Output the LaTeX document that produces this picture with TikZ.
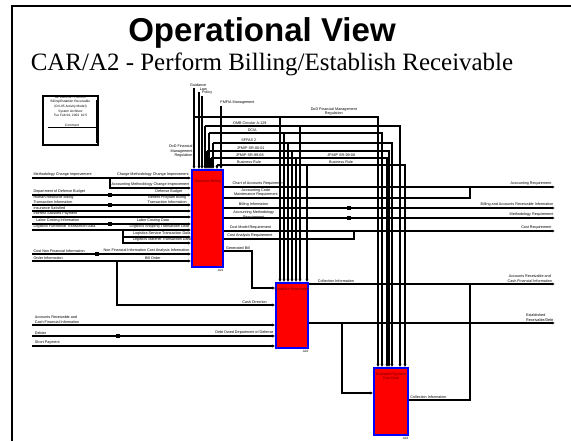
\documentclass[tikz,border=0pt]{standalone}
\usepackage{fontspec}
\setmainfont{Liberation Sans}
\newfontfamily\timesface{Liberation Serif}
\usepackage{xcolor}
\usepackage{tikz}
\usetikzlibrary{arrows.meta, positioning, calc}
\definecolor{boxtext}{RGB}{110,0,0}

\begin{document}
\begin{tikzpicture}[
  x=0.05cm, y=-0.05cm,
  actbox/.style={draw=blue, fill=red, line width=2.6pt, inner sep=0pt},
  boxtitle/.style={font=\fontsize{5.3}{6}\selectfont, text=boxtext, align=center, inner sep=0.5pt},
  boxid/.style={font=\fontsize{4.5}{5}\selectfont, inner sep=0.5pt},
  lbl/.style={font=\fontsize{5.3}{6.5}\selectfont, inner sep=0.8pt},
  wire/.style={line width=2.9pt},
  flow/.style={wire, -{Latex[length=4.6pt,width=4.6pt]}}
]
\useasboundingbox (0,0) rectangle (571,441);
\draw[line width=2.8pt] (12,441) -- (12,6) -- (571,6);

\node[font=\bfseries\fontsize{47}{50}\selectfont, anchor=base] (title) at (262,42) {Operational View};
\node[font=\timesface\fontsize{35.5}{38}\selectfont, anchor=base] (subtitle) at (272,71) {CAR/A2 - Perform Billing/Establish Receivable};

% node box
\node[draw, line width=3.8pt, minimum width=2.75cm, minimum height=2.45cm] (infobox) at (70.5,120.5) {};
\node[font=\fontsize{4.6}{6.1}\selectfont, align=center, inner sep=0pt, below=2pt of infobox.north] (infotext) {A2 CAR/A2 - Perform\\Billing/Establish Receivable\\(OV-05 Activity Model)\\[1pt]System Architect\\Tue Feb 04, 2003 \ 10:5};
\draw[line width=1.6pt] ($(infobox.north east)+(-3,5)$) -- ($(infobox.south east)+(-3,-3)$);
\draw[line width=1.6pt] ($(infobox.west)+(6,7)$) -- node[above, font=\fontsize{4.6}{5}\selectfont, inner sep=0.5pt] {Comment} ($(infobox.east)+(-3,7)$);

% activities
\node[actbox, minimum width=1.55cm, minimum height=4.85cm] (a21) at (207.5,218.5) {};
\node[actbox, minimum width=1.6cm, minimum height=3.25cm] (a22) at (292,315.5) {};
\node[actbox, minimum width=1.7cm, minimum height=3.35cm] (a23) at (391,401.5) {};
\node[boxtitle, below=15pt of a21.north] (a21name) {Generate Billing};
\node[boxtitle, below=8pt of a22.north] (a22name) {Establish Receivable};
\node[boxtitle, below=7pt of a23.north] (a23name) {Evaluate Payment\\Due Date};
\node[boxid, anchor=north east] (a21id) at ([yshift=-1.5pt]a21.south east) {A21};
\node[boxid, anchor=north east] (a22id) at ([yshift=-1.5pt]a22.south east) {A22};
\node[boxid, anchor=north east] (a23id) at ([yshift=-1.5pt]a23.south east) {A23};

% free ends and branch points
\coordinate (i1) at (32,178); \coordinate (i2) at (32,195); \coordinate (i3) at (32,205);
\coordinate (i4) at (32,211); \coordinate (i5) at (32,217); \coordinate (i6) at (32,224);
\coordinate (i7) at (32,230); \coordinate (i8) at (32,254); \coordinate (i9) at (32,261);
\coordinate (j1) at (32,325); \coordinate (j2) at (32,336); \coordinate (j3) at (32,346);
\coordinate (o1) at (555,187); \coordinate (o2) at (555,208); \coordinate (o3) at (555,218);
\coordinate (o4) at (555,231); \coordinate (o5) at (555,284); \coordinate (o6) at (555,323);
\coordinate (b1) at (110,178); \coordinate (b2) at (123,230); \coordinate (b3) at (117,261);
\coordinate (m1) at (470,198); \coordinate (m2) at (354,239); \coordinate (m3) at (252,251);
\coordinate (m4) at (342,323); \coordinate (m5) at (470,400);
\coordinate (guid) at (194,88); \coordinate (law) at (199,92); \coordinate (pol) at (202,96); \coordinate (fmfia) at (221,106);
\coordinate (c1l) at (194,117); \coordinate (c1m) at (280,117); \coordinate (c1r) at (378,117);
\coordinate (c2l) at (205,126); \coordinate (c2m) at (300,126); \coordinate (c2r) at (400,126);
\coordinate (c3l) at (209,133); \coordinate (c3m) at (284,133); \coordinate (c3r) at (382,133);
\coordinate (c4l) at (213,143); \coordinate (c4m) at (288,143); \coordinate (c4r) at (392,143);
\coordinate (c5l) at (207,151); \coordinate (c5m) at (292,151); \coordinate (c5r) at (389,151);
\coordinate (c6l) at (211,158); \coordinate (c6m) at (296,158); \coordinate (c6r) at (387,158);
\coordinate (c7l) at (217,165); \coordinate (c7m) at (307,165); \coordinate (c7r) at (405,165);

% controls
\draw[flow] (guid) node[lbl, above, xshift=6pt] {Guidance} -- node[pos=0.78, lbl, left, align=right] {DoD Financial\\Management\\Regulation} (guid |- a21.north);
\draw[flow] (law) node[lbl, above right, xshift=-1pt] {Law} -- (law |- a21.north);
\draw[flow] (pol) node[lbl, above right, xshift=-2pt] {Policy} -- (pol |- a21.north);
\draw[flow] (fmfia) node[lbl, above right, xshift=-3pt] {FMFIA Management} -- (fmfia |- a21.north);
\draw[flow] (c1l) -- node[pos=0.76, lbl, above, align=center] {DoD Financial Management\\Regulation} (c1r) -- (c1r |- a23.north);
\draw[flow] (c1m) -- (c1m |- a22.north);
\draw[flow] (c2l) -- (c2l |- a21.north);
\draw[flow] (c2l) -- node[pos=0.23, lbl, above] {OMB Circular A-129} (c2r) -- (c2r |- a23.north);
\draw[flow] (c2m) -- (c2m |- a22.north);
\draw[flow] (c3l) -- (c3l |- a21.north);
\draw[flow] (c3l) -- node[pos=0.25, lbl, above] {DCIA} (c3r) -- (c3r |- a23.north);
\draw[flow] (c3m) -- (c3m |- a22.north);
\draw[flow] (c4l) -- (c4l |- a21.north);
\draw[flow] (c4l) -- node[pos=0.2, lbl, above] {SFFAS 2} (c4r) -- (c4r |- a23.north);
\draw[flow] (c4m) -- (c4m |- a22.north);
\draw[flow] (c5l) -- (c5l |- a21.north);
\draw[flow] (c5l) -- node[pos=0.24, lbl, above] {JFMIP SR-00-01} (c5r) -- (c5r |- a23.north);
\draw[flow] (c5m) -- (c5m |- a22.north);
\draw[flow] (c6l) -- (c6l |- a21.north);
\draw[flow] (c6l) -- node[pos=0.22, lbl, above] {JFMIP SR-99-08} node[pos=0.74, lbl, above] {JFMIP SR-99-08} (c6r) -- (c6r |- a23.north);
\draw[flow] (c6m) -- (c6m |- a22.north);
\draw[flow] (c7l) -- (c7l |- a21.north);
\draw[flow] (c7l) -- node[pos=0.17, lbl, above] {Business Rule} node[pos=0.66, lbl, above] {Business Rule} (c7r) -- (c7r |- a23.north);
\draw[flow] (c7m) -- (c7m |- a22.north);

% inputs of A21
\draw[flow] (i1) -- node[pos=0, lbl, above right] {Methodology Change Improvement} node[pos=0.76, lbl, above] {Charge Methodology Change Improvement} (a21.west |- i1);
\draw[flow] (b1) -- ++(0,10) coordinate (b1d) -- node[lbl, above] {Accounting Methodology Change Improvement} (a21.west |- b1d);
\draw[flow] (i2) -- node[pos=0, lbl, above right] {Department of Defense Budget} node[pos=0.86, lbl, above] {Defense Budget} (a21.west |- i2);
\draw[flow] (i3) -- node[pos=0, lbl, above right, align=left] {Human Resource Billing\\Transaction Information} node[pos=0.85, lbl, above, align=center] {Benefit Program Billing\\Transaction Information} (a21.west |- i3);
\draw[flow] (i4) -- node[pos=0, lbl, above right] {Insurance Satisfied} (a21.west |- i4);
\draw[flow] (i5) -- node[pos=0, lbl, above right] {Interest Satisfied Payment} (a21.west |- i5);
\draw[flow] (i6) -- node[pos=0, lbl, above right, xshift=4pt] {Labor Costing Information} node[pos=0.76, lbl, above] {Labor Costing Data} (a21.west |- i6);
\draw[flow] (i7) -- node[pos=0, lbl, above right] {Logistics Functional Transaction Data} node[pos=0.8, lbl, above] {Logistics Shipping Transaction Data} (a21.west |- i7);
\draw[flow] (b2) -- ++(0,7) coordinate (b2a) -- node[pos=0.57, lbl, above] {Logistics Service Transaction Data} (a21.west |- b2a);
\draw[flow] (b2a) -- ++(0,6) coordinate (b2b) -- node[pos=0.57, lbl, above] {Logistics Materiel Transaction Data} (a21.west |- b2b);
\draw[flow] (i8) -- node[pos=0, lbl, above right] {Cost Non Financial Information} node[pos=0.72, lbl, above] {Non Financial Information Cost Analysis Information} (a21.west |- i8);
\draw[flow] (i9) -- node[pos=0, lbl, above right] {Order Information} node[pos=0.76, lbl, above] {Bill Order} (a21.west |- i9);
\draw[flow] (b3) -- ++(0,44) coordinate (b3d) -- node[pos=0.87, lbl, above] {Cash Direction} (a22.west |- b3d);
\fill (108,193) rectangle (112,197);
\fill (108,203) rectangle (112,207);
\fill (108,222) rectangle (112,226);
\fill (95,252) rectangle (99,256);

% inputs of A22
\draw[flow] (j1) -- node[pos=0, lbl, above right, align=left, xshift=2pt] {Accounts Receivable and\\Cash Financial Information} (a22.west |- j1);
\draw[flow] (j2) -- node[pos=0, lbl, above right, xshift=2pt] {Debtor} node[pos=1, lbl, above left] {Debt Owed Department of Defense} (a22.west |- j2);
\draw[flow] (j3) -- node[pos=0, lbl, above right, xshift=2pt] {Short Payment} (a22.west |- j3);
\fill (116,334) rectangle (120,338);

% outputs of A21
\draw[flow] (a21.east |- o1) -- node[pos=0.105, lbl, above] {Chart of Accounts Requirement} node[pos=1, lbl, above left, xshift=-3pt] {Accounting Requirement} (o1);
\draw[wire] (a21.east |- m1) -- node[pos=0.13, lbl, above, align=center] {Accounting Code\\Maintenance Requirement} (m1) -- (m1 |- o1);
\draw[flow] (a21.east |- o2) -- node[pos=0.09, lbl, above] {Billing Information} node[pos=1, lbl, above left] {Billing and Accounts Receivable Information} (o2);
\draw[flow] (a21.east |- o3) -- node[pos=0.09, lbl, above, align=center, yshift=-3.5pt] {Accounting Methodology\\Requirement} node[pos=1, lbl, above left] {Methodology Requirement} (o3);
\draw[flow] (a21.east |- o4) -- node[pos=0.08, lbl, above] {Cost Model Requirement} node[pos=1, lbl, above left, xshift=-3pt] {Cost Requirement} (o4);
\draw[wire] (a21.east |- m2) -- node[pos=0.2, lbl, above] {Cost Analysis Requirement} (m2) -- (m2 |- o4);
\draw[flow] (a21.east |- m3) -- node[pos=0.5, lbl, above] {Generated Bill} (m3) -- ++(0,37) coordinate (m3d) -- (a22.west |- m3d);
\fill (347,206) rectangle (351,210);
\fill (347,216) rectangle (351,220);

% outputs of A22 and A23
\draw[flow] (a22.east |- o5) -- node[pos=0.11, lbl, above] {Collection Information} node[pos=1, lbl, above left, align=center, xshift=-2pt] {Accounts Receivable and\\Cash Financial Information} (o5);
\draw[flow] (a22.east |- o6) -- node[pos=1, lbl, above left, align=left] {Established\\Receivable/Debt} (o6);
\draw[flow] (m4) -- ++(0,70) coordinate (m4d) -- (a23.west |- m4d);
\draw[wire] (a23.east |- m5) -- node[pos=0.32, lbl, above] {Collection Information} (m5) -- (m5 |- o5);
\end{tikzpicture}
\end{document}
